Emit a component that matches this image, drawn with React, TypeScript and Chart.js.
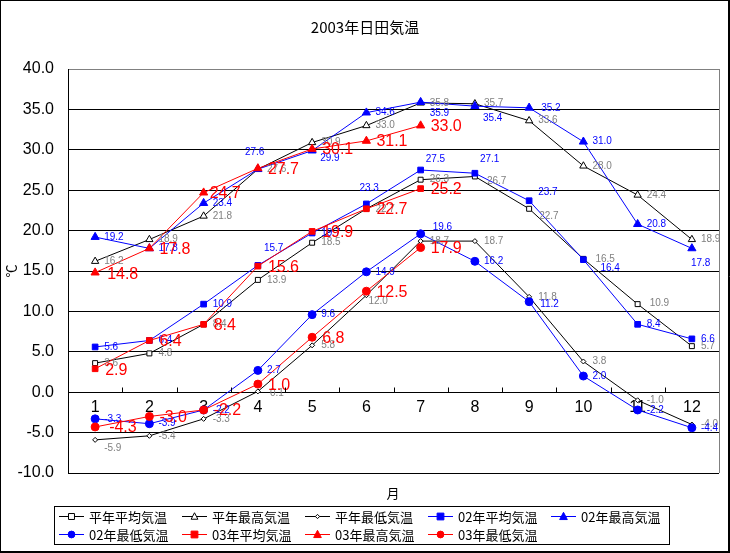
import React, { useEffect, useRef } from 'react';
import { Chart, registerables } from 'chart.js';

Chart.register(...registerables);

const months = ['1', '2', '3', '4', '5', '6', '7', '8', '9', '10', '11', '12'];
const yTicks = [-10, -5, 0, 5, 10, 15, 20, 25, 30, 35, 40];

const normalAvg = [3.6, 4.8, 8.4, 13.9, 18.5, 22.7, 26.3, 26.7, 22.7, 16.5, 10.9, 5.7];
const normalMax = [16.2, 18.9, 21.8, 27.6, 30.9, 33.0, 35.8, 35.7, 33.6, 28.0, 24.4, 18.9];
const normalMin = [-5.9, -5.4, -3.3, 0.1, 5.8, 12.0, 18.7, 18.7, 11.8, 3.8, -1.0, -4.0];
const avg02 = [5.6, 6.4, 10.9, 15.7, 19.7, 23.3, 27.5, 27.1, 23.7, 16.4, 8.4, 6.6];
const max02 = [19.2, 17.8, 23.4, 27.6, 29.9, 34.6, 35.9, 35.4, 35.2, 31.0, 20.8, 17.8];
const min02 = [-3.3, -3.9, -2.2, 2.7, 9.6, 14.9, 19.6, 16.2, 11.2, 2.0, -2.2, -4.4];
const avg03 = [2.9, 6.4, 8.4, 15.6, 19.9, 22.7, 25.2, null, null, null, null, null];
const max03 = [14.8, 17.8, 24.7, 27.7, 30.1, 31.1, 33.0, null, null, null, null, null];
const min03 = [-4.3, -3.0, -2.2, 1.0, 6.8, 12.5, 17.9, null, null, null, null, null];

const seriesNames = [
  '平年平均気温', '平年最高気温', '平年最低気温',
  '02年平均気温', '02年最高気温', '02年最低気温',
  '03年平均気温', '03年最高気温', '03年最低気温',
];

const NUM_FONT = '"Liberation Sans", Arial, sans-serif';
const JP_FONT = '"Noto Sans CJK JP", "Noto Sans", sans-serif';

type MarkerStyle = { shape: string; r: number; fill: string; stroke: string; color: string };

const styles: MarkerStyle[] = [
  { shape: 'rect', r: 3.5, fill: '#fff', stroke: '#000', color: '#000' },
  { shape: 'triangle', r: 4, fill: '#fff', stroke: '#000', color: '#000' },
  { shape: 'diamond', r: 2.5, fill: '#fff', stroke: '#000', color: '#000' },
  { shape: 'rect', r: 4, fill: '#0000ff', stroke: '#0000ff', color: '#0000ff' },
  { shape: 'triangle', r: 4.5, fill: '#0000ff', stroke: '#0000ff', color: '#0000ff' },
  { shape: 'circle', r: 4, fill: '#0000ff', stroke: '#0000ff', color: '#0000ff' },
  { shape: 'rect', r: 4, fill: '#ff0000', stroke: '#ff0000', color: '#ff0000' },
  { shape: 'triangle', r: 4.5, fill: '#ff0000', stroke: '#ff0000', color: '#ff0000' },
  { shape: 'circle', r: 4, fill: '#ff0000', stroke: '#ff0000', color: '#ff0000' },
];

// label appearance per series group
const labelColor = ['#808080', '#808080', '#808080', '#0000ff', '#0000ff', '#0000ff', '#ff0000', '#ff0000', '#ff0000'];
const labelSize = [10, 10, 10, 10, 10, 10, 16, 16, 16];

// manual label offsets (dx, dy) relative to point; default is to the right
const labelOffsets: Record<string, [number, number]> = {
  '0-7': [12, 5], '0-8': [10, 7], '0-9': [12, 0], '0-10': [12, -1],
  '2-0': [9, 8], '2-5': [2, 6], '2-3': [12, 2],
  '3-3': [6, -17], '3-5': [-7, -16], '3-6': [5, -11], '3-7': [5, -14], '3-8': [9, -8], '3-9': [17, 9],
  '4-3': [-13, -17], '4-4': [8, 8], '4-6': [9, 11], '4-7': [8, 12], '4-8': [12, 0], '4-11': [-1, 15],
  '5-6': [12, -7], '5-8': [11, 3],
  '6-0': [10, 2], '7-0': [12, 2], '8-0': [14, 1], '7-2': [6, 1],
};

function drawMarker(ctx: CanvasRenderingContext2D, s: MarkerStyle, x: number, y: number) {
  const r = s.r;
  ctx.save();
  ctx.beginPath();
  if (s.shape === 'rect') {
    ctx.rect(x - r, y - r, 2 * r, 2 * r);
  } else if (s.shape === 'triangle') {
    ctx.moveTo(x, y - r * 1.1);
    ctx.lineTo(x + r, y + r * 0.8);
    ctx.lineTo(x - r, y + r * 0.8);
    ctx.closePath();
  } else if (s.shape === 'diamond') {
    ctx.moveTo(x, y - r);
    ctx.lineTo(x + r, y);
    ctx.lineTo(x, y + r);
    ctx.lineTo(x - r, y);
    ctx.closePath();
  } else {
    ctx.arc(x, y, r, 0, Math.PI * 2);
  }
  ctx.fillStyle = s.fill;
  ctx.fill();
  ctx.lineWidth = 1;
  ctx.strokeStyle = s.stroke;
  ctx.stroke();
  ctx.restore();
}

const decorPlugin = {
  id: 'decor',
  afterDatasetsDraw(chart: any) {
    const ctx: CanvasRenderingContext2D = chart.ctx;
    // data labels
    chart.data.datasets.forEach((ds: any, di: number) => {
      const meta = chart.getDatasetMeta(di);
      ctx.save();
      ctx.fillStyle = labelColor[di];
      ctx.font = `${labelSize[di]}px ${NUM_FONT}`;
      ctx.textAlign = 'left';
      ctx.textBaseline = 'middle';
      meta.data.forEach((pt: any, i: number) => {
        const v = ds.data[i];
        if (v === null || v === undefined) return;
        const off = labelOffsets[`${di}-${i}`] || (labelSize[di] > 12 ? [10, 1] : [9, 0]);
        ctx.fillText(Number(v).toFixed(1), pt.x + off[0], pt.y + off[1]);
      });
      ctx.restore();
    });
  },
  afterDraw(chart: any) {
    const ctx: CanvasRenderingContext2D = chart.ctx;
    const area = chart.chartArea;
    const xs = chart.scales.x;
    const ys = chart.scales.y;
    ctx.save();
    // right border of plot area
    ctx.strokeStyle = '#808080';
    ctx.lineWidth = 1;
    ctx.beginPath();
    ctx.moveTo(Math.round(area.right) + 0.5, area.top);
    ctx.lineTo(Math.round(area.right) + 0.5, area.bottom);
    ctx.stroke();
    // x tick marks (between categories, upward)
    const y0 = Math.round(ys.getPixelForValue(0)) + 0.5;
    const w = (area.right - area.left) / months.length;
    ctx.strokeStyle = '#000';
    ctx.beginPath();
    for (let i = 1; i < months.length; i++) {
      const x = Math.round(area.left + i * w) + 0.5;
      ctx.moveTo(x, y0 - 5);
      ctx.lineTo(x, y0);
    }
    ctx.stroke();
    // title
    ctx.fillStyle = '#000';
    ctx.textAlign = 'center';
    ctx.textBaseline = 'middle';
    ctx.font = `15px ${JP_FONT}`;
    ctx.fillText('2003年日田気温', 365, 27);
    // x title
    ctx.font = `13px ${JP_FONT}`;
    ctx.fillText('月', 393, 493);
    // y title (rotated)
    ctx.save();
    ctx.translate(11, 271);
    ctx.rotate(-Math.PI / 2);
    ctx.font = `13px ${JP_FONT}`;
    ctx.fillText('℃', 0, 0);
    ctx.restore();
    // legend box
    ctx.strokeStyle = '#000';
    ctx.lineWidth = 1;
    ctx.strokeRect(54.5, 506.5, 615, 38);
    const colX = [59, 182, 305, 428, 551];
    const rowY = [516, 534];
    ctx.font = `13px ${JP_FONT}`;
    ctx.textAlign = 'left';
    seriesNames.forEach((name, i) => {
      const x = colX[i % 5];
      const y = rowY[Math.floor(i / 5)];
      const s = styles[i];
      ctx.strokeStyle = s.color;
      ctx.beginPath();
      ctx.moveTo(x, y + 0.5);
      ctx.lineTo(x + 25, y + 0.5);
      ctx.stroke();
      drawMarker(ctx, { ...s, r: s.r * 0.85 }, x + 12.5, y + 0.5);
      ctx.fillStyle = '#000';
      ctx.fillText(name, x + 30, y + 1);
    });
    // outer border
    ctx.strokeStyle = '#000';
    ctx.lineWidth = 1;
    ctx.strokeRect(0.5, 0.5, 728, 551);
    ctx.lineWidth = 1;
    ctx.beginPath();
    ctx.moveTo(729.5, 0);
    ctx.lineTo(729.5, 553);
    ctx.moveTo(0, 552.5);
    ctx.lineTo(730, 552.5);
    ctx.stroke();
    ctx.restore();
  },
};

export default function App() {
  const ref = useRef<HTMLCanvasElement | null>(null);
  useEffect(() => {
    document.body.style.margin = '0';
    const canvas = ref.current;
    if (!canvas) return;
    const series = [normalAvg, normalMax, normalMin, avg02, max02, min02, avg03, max03, min03];
    const orders = [2, 2, 2, 1, 1, 1, 0, 0, 0];
    const chart = new Chart(canvas, {
      type: 'line',
      data: {
        labels: months,
        datasets: series.map((d, i) => ({
          label: seriesNames[i],
          data: d as any,
          borderColor: styles[i].color,
          backgroundColor: styles[i].fill,
          borderWidth: 1,
          order: orders[i],
          tension: 0,
          spanGaps: false,
          pointStyle: (styles[i].shape === 'diamond' ? 'rectRot' : styles[i].shape) as any,
          pointRadius: styles[i].shape === 'triangle' ? styles[i].r * 1.05 : styles[i].r,
          pointBackgroundColor: styles[i].fill,
          pointBorderColor: styles[i].stroke,
          pointBorderWidth: 1,
        })),
      },
      options: {
        animation: false,
        responsive: false,
        maintainAspectRatio: false,
        events: [],
        layout: { padding: { left: 0, top: 69, right: 11, bottom: 80 } },
        plugins: {
          legend: { display: false },
          title: { display: false },
          tooltip: { enabled: false },
        },
        scales: {
          x: {
            type: 'category',
            offset: true,
            position: { y: 0 } as any,
            grid: { display: true, drawOnChartArea: false, drawTicks: false },
            border: { display: true, color: '#000', width: 1 },
            ticks: {
              color: '#000',
              font: { family: NUM_FONT, size: 16 },
              padding: 6,
              maxRotation: 0,
              autoSkip: false,
            },
          },
          y: {
            type: 'linear',
            min: yTicks[0],
            max: yTicks[yTicks.length - 1],
            afterFit: (s: any) => { s.width = 68; },
            afterBuildTicks: (s: any) => { s.ticks = yTicks.map((v) => ({ value: v })); },
            ticks: {
              callback: (v: any) => Number(v).toFixed(1),
              color: '#000',
              font: { family: NUM_FONT, size: 16 },
              padding: 14,
            },
            grid: {
              color: (c: any) => (c.tick && c.tick.value === 40 ? '#808080' : '#000'),
              lineWidth: 1,
              drawTicks: false,
            },
            border: { display: true, color: '#000', width: 1 },
          },
        },
      },
      plugins: [decorPlugin],
    });
    return () => chart.destroy();
  }, []);
  return <canvas ref={ref} width={730} height={553} style={{ display: 'block' }} />;
}
